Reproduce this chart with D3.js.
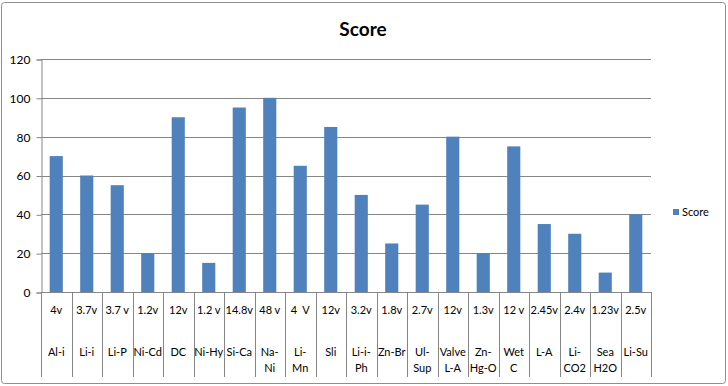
<!DOCTYPE html>
<html>
<head>
<meta charset="utf-8">
<script src="https://cdn.jsdelivr.net/npm/d3@7"></script>
<style>
  body { margin: 0; background: #fff; }
  text { font-family: Lato, "Open Sans", sans-serif; fill: #000; }
</style>
</head>
<body>
<div id="chart"></div>
<script>
// Battery scores with a two-level category axis (voltage / type)
const scores = [70, 60, 55, 20, 90, 15, 95, 100, 65, 85, 50, 25, 45, 80, 20, 75, 35, 30, 10, 40];
const voltages = ["4v", "3.7v", "3.7 v", "1.2v", "12v", "1.2 v", "14.8v", "48 v", "4  V", "12v",
                  "3.2v", "1.8v", "2.7v", "12v", "1.3v", "12 v", "2.45v", "2.4v", "1.23v", "2.5v"];
const names = [["Al-i"], ["Li-i"], ["Li-P"], ["Ni-Cd"], ["DC"], ["Ni-Hy"], ["Si-Ca"], ["Na-", "Ni"],
               ["Li-", "Mn"], ["Sli"], ["Li-i-", "Ph"], ["Zn-Br"], ["Ul-", "Sup"], ["Valve", "L-A"],
               ["Zn-", "Hg-O"], ["Wet", "C"], ["L-A"], ["Li-", "CO2"], ["Sea", "H2O"], ["Li-Su"]];
const yTicks = [0, 20, 40, 60, 80, 100, 120];

const width = 728, height = 386;
const plot = {left: 41, right: 651, top: 59, bottom: 292};

const svg = d3.select("#chart").append("svg")
    .attr("width", width)
    .attr("height", height);

// chart frame
svg.append("rect")
    .attr("x", 1.5).attr("y", 2.5)
    .attr("width", 724).attr("height", 381)
    .attr("rx", 3)
    .attr("fill", "#fff")
    .attr("stroke", "#8e8e8e");

const x = d3.scaleBand()
    .domain(d3.range(scores.length))
    .range([plot.left, plot.right])
    .paddingInner(0.57)
    .paddingOuter(0.285);

const xOuter = d3.scaleBand()
    .domain(d3.range(scores.length))
    .range([plot.left, plot.right]);

const y = d3.scaleLinear()
    .domain([0, 120])
    .range([plot.bottom, plot.top]);

// gridlines
svg.append("g")
    .selectAll("line")
    .data(yTicks.slice(1))
    .enter().append("line")
    .attr("x1", plot.left).attr("x2", plot.right)
    .attr("y1", d => Math.round(y(d)) + 0.5)
    .attr("y2", d => Math.round(y(d)) + 0.5)
    .attr("stroke", "#868686");

// y axis
const yAxis = d3.axisLeft(y).tickValues(yTicks).tickSize(5).tickPadding(6);
const gy = svg.append("g")
    .attr("transform", `translate(${plot.left + 0.5},0.5)`)
    .call(yAxis);
gy.select(".domain").attr("stroke", "#868686");
gy.selectAll(".tick line").attr("stroke", "#868686");
gy.selectAll(".tick text")
    .style("font-size", "12px")
    .style("font-family", "Lato, 'Open Sans', sans-serif")
    .attr("fill", "#000");

// bars
svg.append("g")
    .selectAll("rect")
    .data(scores)
    .enter().append("rect")
    .attr("x", (d, i) => x(i))
    .attr("width", x.bandwidth())
    .attr("y", d => y(d))
    .attr("height", d => y(0) - y(d))
    .attr("fill", "#4f81bd");

// x axis line
svg.append("line")
    .attr("x1", plot.left).attr("x2", plot.right)
    .attr("y1", plot.bottom + 0.5).attr("y2", plot.bottom + 0.5)
    .attr("stroke", "#868686");

// category separators
const seps = d3.range(scores.length + 1).map(i => i < scores.length ? xOuter(i) : plot.right);
svg.append("g")
    .selectAll("line")
    .data(seps)
    .enter().append("line")
    .attr("x1", d => Math.round(d) + 0.5).attr("x2", d => Math.round(d) + 0.5)
    .attr("y1", plot.bottom).attr("y2", 377)
    .attr("stroke", "#868686");

// voltage row
svg.append("g")
    .selectAll("text")
    .data(voltages)
    .enter().append("text")
    .attr("x", (d, i) => xOuter(i) + xOuter.bandwidth() / 2)
    .attr("y", 314)
    .attr("text-anchor", "middle")
    .style("font-size", "11px")
    .style("white-space", "pre")
    .text(d => d);

// name row
const nameText = svg.append("g")
    .selectAll("text")
    .data(names)
    .enter().append("text")
    .attr("x", (d, i) => xOuter(i) + xOuter.bandwidth() / 2)
    .attr("y", 356)
    .attr("text-anchor", "middle")
    .style("font-size", "11px");
nameText.selectAll("tspan")
    .data(d => d)
    .enter().append("tspan")
    .attr("x", function() { return this.parentNode.getAttribute("x"); })
    .attr("dy", (d, i) => i === 0 ? 0 : 16)
    .text(d => d);

// title
svg.append("text")
    .attr("x", 363)
    .attr("y", 36)
    .attr("text-anchor", "middle")
    .style("font-size", "19px")
    .style("font-weight", "bold")
    .text("Score");

// legend
svg.append("rect")
    .attr("x", 673).attr("y", 209)
    .attr("width", 6).attr("height", 6)
    .attr("fill", "#4f81bd");
svg.append("text")
    .attr("x", 682)
    .attr("y", 216)
    .style("font-size", "11px")
    .text("Score");
</script>
</body>
</html>
